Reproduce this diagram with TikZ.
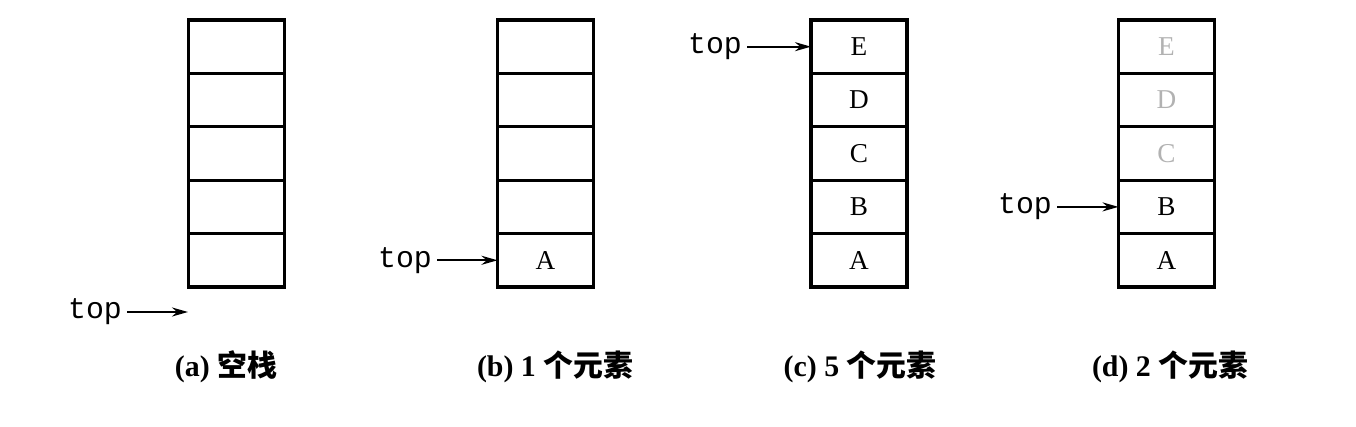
\documentclass[tikz,border=0pt]{standalone}
\usepackage{fontspec}
\setmainfont{Liberation Serif}
\setmonofont{Liberation Mono}
\newfontfamily\cjk{Noto Sans CJK SC}
\usetikzlibrary{arrows.meta}
\begin{document}
\begin{tikzpicture}[x=0.2mm,y=-0.2mm]
% Configurable parameters
\def\xa{236.5}	% centre of stack (a)
\def\xb{545.5}	% centre of stack (b)
\def\xc{859}	% centre of stack (c)
\def\xd{1166.5}	% centre of stack (d)
\def\ycap{367}	% caption line

% Styles
\tikzstyle{cell}=[draw,line width=1.8pt,outer sep=0pt,inner sep=0pt,minimum width=1.92cm,minimum height=1.068cm,font=\fontsize{15.5}{16}\selectfont]
\tikzstyle{faded}=[text=black!30]
\tikzstyle{toplabel}=[font=\ttfamily\fontsize{17}{18}\selectfont,inner sep=1mm]
\tikzstyle{pointer}=[line width=1.3pt,arrows={-Stealth[length=3.2mm,width=1.8mm]}]
\tikzstyle{caption}=[font=\bfseries\fontsize{17}{18}\selectfont]

\useasboundingbox (0,0) rectangle (1356,427);

% (a) empty stack
\node[cell] (a1) at (\xa,260.3) {};
\node[cell] (a2) at (\xa,206.9) {};
\node[cell] (a3) at (\xa,153.5) {};
\node[cell] (a4) at (\xa,100.1) {};
\node[cell] (a5) at (\xa,46.7) {};
\node[toplabel] (topa) at (95,312) {top};
\coordinate (bota) at (188,312);	% below the bottom cell
\draw[pointer] (topa) -- (bota);
\node[caption] (capa) at (226,\ycap) {(a) {\cjk 空栈}};

% (b) one element
\node[cell] (b1) at (\xb,260.3) {A};
\node[cell] (b2) at (\xb,206.9) {};
\node[cell] (b3) at (\xb,153.5) {};
\node[cell] (b4) at (\xb,100.1) {};
\node[cell] (b5) at (\xb,46.7) {};
\node[toplabel] (topb) at (405,260.3) {top};
\draw[pointer] (topb) -- (b1);
\node[caption] (capb) at (555,\ycap) {(b) 1 {\cjk 个元素}};

% (c) five elements
\node[cell] (c1) at (\xc,260.3) {A};
\node[cell] (c2) at (\xc,206.9) {B};
\node[cell] (c3) at (\xc,153.5) {C};
\node[cell] (c4) at (\xc,100.1) {D};
\node[cell] (c5) at (\xc,46.7) {E};
\node[toplabel] (topc) at (715,46.7) {top};
\draw[pointer] (topc) -- (c5);
\node[caption] (capc) at (860,\ycap) {(c) 5 {\cjk 个元素}};

% (d) two elements, the popped ones still show faintly
\node[cell] (d1) at (\xd,260.3) {A};
\node[cell] (d2) at (\xd,206.9) {B};
\node[cell,faded] (d3) at (\xd,153.5) {C};
\node[cell,faded] (d4) at (\xd,100.1) {D};
\node[cell,faded] (d5) at (\xd,46.7) {E};
\node[toplabel] (topd) at (1025,206.9) {top};
\draw[pointer] (topd) -- (d2);
\node[caption] (capd) at (1170,\ycap) {(d) 2 {\cjk 个元素}};
\end{tikzpicture}
\end{document}
